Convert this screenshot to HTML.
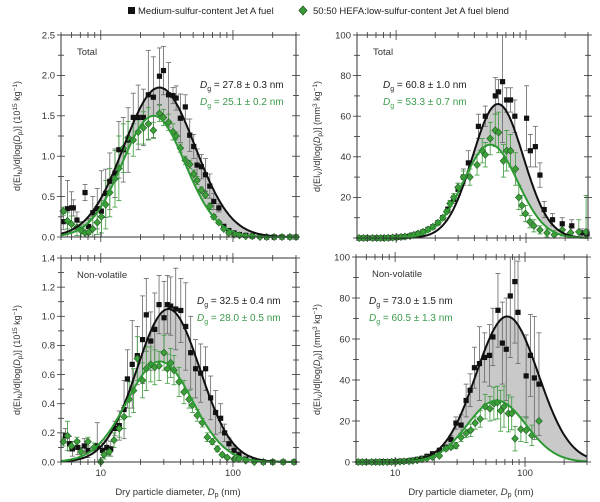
<!DOCTYPE html>
<html><head><meta charset="utf-8"><style>
body{margin:0;background:#fff;}
svg{display:block;font-family:"Liberation Sans",sans-serif;}
</style></head><body>
<svg id="chart" width="600" height="502" viewBox="0 0 600 502" xmlns="http://www.w3.org/2000/svg">
<g>
 <rect x="128" y="7" width="7" height="7" fill="#111"/>
 <text x="138" y="14" font-size="9.5" fill="#222">Medium-sulfur-content Jet A fuel</text>
 <path d="M303,6 L307,10.5 L303,15 L299,10.5Z" fill="#3a9a3a" stroke="#1c5c1c" stroke-width="0.8"/>
 <text x="313" y="14" font-size="9.5" fill="#222">50:50 HEFA:low-sulfur-content Jet A fuel blend</text>
</g>
<text x="178" y="495" font-size="9.5" text-anchor="middle" fill="#333">Dry particle diameter, <tspan font-style="italic">D</tspan><tspan font-size="7" dy="2">p</tspan><tspan dy="-2"> (nm)</tspan></text>
<text x="471" y="495" font-size="9.5" text-anchor="middle" fill="#333">Dry particle diameter, <tspan font-style="italic">D</tspan><tspan font-size="7" dy="2">p</tspan><tspan dy="-2"> (nm)</tspan></text>
</svg>
<script>
// ---------- Data ----------
// Top-left: Total number
const tlBlackD = [5.2,5.6,6.0,6.2,6.6,7.1,7.6,8.1,8.7,9.4,10.1,10.9,11.7,12.8,13.7,14.8,16.1,17.6,19.2,21.0,22.9,25.0,27.8,29.8,32.6,35.2,37.2,40.0,43.6,47.1,50.5,53.5,57.7,61.9,66.8,71.6,78.2,85.3,93.2,102,112,125,140,160,180,205,235,270,300];
const tlBlackV = [0.19,0.35,0.36,0.36,0.21,0.09,0.55,0.13,0.30,0.35,0.32,0.54,0.69,0.79,1.08,1.08,1.20,1.48,1.48,1.48,1.76,1.73,1.99,2.06,1.76,1.75,1.72,1.47,1.61,1.26,1.12,0.89,0.87,0.77,0.63,0.44,0.36,0.13,0.08,0.05,0.03,0.02,0.01,0.01,0.0,0.0,0.0,0.0,0.0];
const tlBlackE = [0.1,0.35,0.2,0.1,0.1,0.1,0.1,0.1,0.2,0.25,0.5,0.3,0.35,0.3,0.35,0.4,0.4,0.3,0.4,0.35,0.55,0.5,0.35,0.3,0.4,0.1,0.15,0.3,0.15,0.2,0.15,0.2,0.15,0.2,0.15,0.1,0.05,0.03,0.02,0.02,0.01,0,0,0,0,0,0,0,0];
const tlGreenD = [5.2,5.6,6.0,6.6,7.1,7.6,8.1,8.7,9.4,10.1,10.9,11.7,12.8,13.7,14.8,16.1,17.6,19.2,21.0,22.9,25.0,27.8,29.8,32.6,35.2,37.2,40.0,43.6,47.1,50.5,53.5,57.7,61.9,66.8,71.6,78.2,85.3,93.2,102,112,125,140,160,180,205,235,270,300];
const tlGreenV = [0.32,0.20,0.16,0.12,0.08,0.05,0.06,0.10,0.18,0.25,0.40,0.55,0.72,0.85,1.10,1.23,1.20,1.30,1.35,1.40,1.32,1.53,1.48,1.42,1.30,1.25,1.10,0.95,0.90,0.78,0.70,0.58,0.52,0.38,0.25,0.18,0.10,0.05,0.03,0.02,0.01,0.01,0.0,0.0,0.0,0.0,0.0,0.0];
const tlGreenE = [0.05,0.1,0.1,0.1,0.1,0.1,0.15,0.15,0.15,0.2,0.3,0.3,0.35,0.4,0.3,0.2,0.2,0.15,0.2,0.2,0.1,0.1,0.1,0.1,0.1,0.05,0.05,0.05,0.05,0.05,0.05,0.04,0.04,0.04,0.03,0.02,0.02,0.01,0.01,0,0,0,0,0,0,0,0,0];
// Top-right: Total volume
const trBlackD = [5.2,5.6,6.0,6.6,7.1,7.6,8.1,8.7,9.4,10.1,10.9,11.7,12.8,13.7,14.8,16.1,17.6,19.2,21.0,22.9,25.0,27.8,30.0,33.0,36.0,43.0,48.6,58.0,61.5,66.0,71.0,76.0,82.0,101,108,118,128,138,160,190,225,270,295];
const trBlackV = [0,0,0,0,0,0,0,0.1,0.2,0.3,0.5,0.7,1.0,1.5,2.2,3.0,4.2,5.5,7.5,10,14,19,24,30,37,55,60,70,72,77,68,68,60,59,43,45,31,14,9,7,6,2.5,2];
const trBlackE = [0,0,0,0,0,0,0,0,0,0,0,0,0,0,0,0,0,0,0.5,1,1.5,2,3,4,6,6,5,9,6,30,6,6,8,16,8,10,6,4,3,3,3,2,2];
const trGreenD = [5.2,5.6,6.0,6.6,7.1,7.6,8.1,8.7,9.4,10.1,10.9,11.7,12.8,13.7,14.8,16.1,17.6,19.2,21.0,22.9,24.5,26.0,27.8,30.0,33.0,37.0,42.0,46.0,48.6,53.0,58.0,61.5,67.0,71.0,76.0,83.0,88.0,93.0,99.0,107,115,128,145,165,190,220,255,290];
const trGreenV = [0,0,0,0,0,0,0,0.1,0.2,0.3,0.5,0.7,1.0,1.5,2.2,3.0,4.2,5.5,7.5,10,13,17,20,25,30,30,36,43,41,49,53,52,38,43,43,34,20,16,12,8,6,4,2.5,1.6,4,2.5,3,3];
const trGreenE = [0,0,0,0,0,0,0,0,0,0,0,0,0,0,0,0,0,0,0.5,1,1,1.5,2,2,3,4,5,6,6,8,8,10,8,10,8,8,6,5,4,3,3,2,2,2,3,3,6,18];
// Bottom-left: Non-volatile number
const blBlackD = [5.4,5.8,6.1,6.7,7.5,8.0,9.4,10.3,11.1,11.9,12.8,13.8,15.0,15.9,17.3,18.9,20.7,22.1,23.9,25.6,27.6,30.1,31.9,33.8,36.9,40.3,43.9,47.9,52.2,57.0,62.1,67.8,74.0,80.7,86.5,93.3,102,111,125,145,170,200,240,290];
const blBlackV = [0.18,0.125,0.09,0.10,0.11,0.08,0.11,0.08,0.10,0.09,0.23,0.25,0.36,0.57,0.67,0.73,0.84,1.01,0.83,0.91,1.08,0.99,1.08,1.07,1.05,1.04,0.93,0.75,0.64,0.61,0.64,0.44,0.34,0.30,0.20,0.125,0.08,0.05,0.02,0.01,0.0,0.0,0.0,0.0];
const blBlackE = [0.05,0.05,0.05,0.05,0.05,0.05,0.16,0.05,0.05,0.05,0.05,0.1,0.2,0.2,0.3,0.2,0.3,0.25,0.2,0.25,0.2,0.25,0.2,0.2,0.28,0.22,0.3,0.25,0.2,0.2,0.15,0.15,0.15,0.1,0.06,0.04,0.03,0.02,0.01,0,0,0,0,0];
const blGreenD = [5.2,5.6,6.0,6.6,7.1,8.0,8.9,10.0,10.6,11.6,12.6,13.8,15.0,16.4,17.7,18.9,20.7,22.1,23.9,25.6,27.6,30.1,31.9,33.8,35.8,39.1,42.6,46.5,49.3,53.7,58.6,64.0,69.8,76.2,83.0,90.6,102,111,125,145,170,200,240,290];
const blGreenV = [0.14,0.18,0.11,0.14,0.07,0.14,0.10,0.0,0.05,0.07,0.15,0.23,0.31,0.43,0.49,0.71,0.56,0.64,0.67,0.65,0.66,0.75,0.64,0.68,0.63,0.55,0.48,0.43,0.39,0.32,0.27,0.17,0.14,0.09,0.05,0.03,0.02,0.02,0.01,0.0,0.0,0.0,0.0,0.0];
const blGreenE = [0.03,0.1,0.03,0.03,0.03,0.03,0.03,0.02,0.03,0.03,0.05,0.06,0.08,0.12,0.15,0.15,0.12,0.15,0.12,0.12,0.1,0.12,0.1,0.1,0.1,0.1,0.08,0.06,0.05,0.04,0.03,0.03,0.02,0.02,0.01,0.01,0.01,0,0,0,0,0,0,0];
// Bottom-right: Non-volatile volume
const brBlackD = [5.2,5.6,6.0,6.6,7.1,7.6,8.1,8.7,9.4,10.1,10.9,11.7,12.8,13.7,14.8,16.1,17.6,19.4,21.9,24.6,26.9,29.4,32.2,35.2,37.8,40.8,44.6,48.8,53.3,56.6,61.9,66.9,71.7,77.0,83.5,88.3,102,110,118,128];
const brBlackV = [0,0,0,0,0,0,0.2,0.1,0.1,0.2,0.3,0.4,0.6,0.9,1.3,1.8,2.8,4,5.7,7,11,19,18,30,35,46,48,51,52,61,74,58,55,81,88,73,42,52,41,38];
const brBlackE = [0,0,0,0,0,0,0,0,0,0,0,0,0,0,0,0,0,1,1,1.5,2,3,5,8,8,10,18,12,15,14,18,20,25,30,30,25,20,20,30,25];
const brGreenD = [5.2,5.6,6.0,6.6,7.1,7.6,8.1,8.7,9.4,10.1,10.9,11.7,12.8,13.7,14.8,16.1,17.6,19.4,21.9,24.6,26.9,29.4,32.2,35.2,38.2,41.3,45.2,49.3,53.7,57.6,61.3,65.0,68.9,74.5,79.0,83.8,93.0,102,113,128];
const brGreenV = [0,0,0,0,0,0,0,0,0.1,0.1,0.2,0.3,0.4,0.6,0.9,1.3,1.8,2.4,3,6.5,7.3,8,12,14,15.5,19,21,27,26,28.5,29,25,27,23.7,23.7,11.4,16,15.5,13,20];
const brGreenE = [0,0,0,0,0,0,0,0,0,0,0,0,0,0,0,0,0,0.5,0.5,1,1,1.5,2,2,3,3,4,6,6,8,8,10,10,9,8,6,6,6,5,0];
// Log-normal fits: [peak, Dg(nm), ln(sigma)] for black, green
const tlFitBlack = [1.85, 27.8, 0.62], tlFitGreen = [1.50, 25.1, 0.55];
const trFitBlack = [66, 60.8, 0.45], trFitGreen = [46, 53.3, 0.48];
const blFitBlack = [1.05, 32.5, 0.55], blFitGreen = [0.69, 28.0, 0.57];
const brFitBlack = [71, 73.0, 0.55], brFitGreen = [30, 60.5, 0.52];
// Y tick labels
const tlYTicks = ["0.0","0.5","1.0","1.5","2.0","2.5"];
const trYTicks = ["","20","40","60","80","100"];
const blYTicks = ["0.0","0.2","0.4","0.6","0.8","1.0","1.2","1.4"];
const brYTicks = ["0","20","40","60","80","100"];

// ---------- Drawing ----------
const svg = document.getElementById('chart');
const NS = 'http://www.w3.org/2000/svg';
function mk(tag, attrs, parent){
  const e = document.createElementNS(NS, tag);
  for (const k in attrs) e.setAttribute(k, attrs[k]);
  (parent||svg).appendChild(e);
  return e;
}
const GREEN = '#2e9a34', GDARK = '#1d5e20', GTEXT = '#3a9a4a';

function panel(p){
  const g = mk('g', {});
  
  
  const xs = d => p.x0 + (Math.log10(d) - Math.log10(5)) / (Math.log10(300) - Math.log10(5)) * (p.x1 - p.x0);
  const ys = v => p.y1 - v / p.ymax * (p.y1 - p.y0);
  const fit = (f, d) => f[0] * Math.exp(-Math.pow(Math.log(d / f[1]), 2) / (2 * f[2] * f[2]));
  const grid = [];
  for (let i = 0; i <= 200; i++) grid.push(5 * Math.pow(60, i / 200));
  let fillD = 'M' + grid.map(d => xs(d).toFixed(1) + ',' + ys(Math.max(fit(p.fb, d), fit(p.fg, d))).toFixed(1)).join('L');
  fillD += 'L' + grid.slice().reverse().map(d => xs(d).toFixed(1) + ',' + ys(fit(p.fg, d)).toFixed(1)).join('L') + 'Z';
  const fill = mk('path', {d: fillD, fill: '#c9c9c9', stroke: 'none'}, g);
  
  
  function errs(D, V, E, col, nm){
    const eg = mk('g', {stroke: col, 'stroke-width': 0.8}, g);
    
    
    D.forEach((d, i) => {
      if (!E[i]) return;
      const x = xs(d), ya = Math.max(ys(V[i] + E[i]), p.y0), yb = Math.min(ys(V[i] - E[i]), p.y1);
      mk('line', {x1: x, x2: x, y1: ya, y2: yb}, eg);
      if (ya > p.y0) mk('line', {x1: x - 2.5, x2: x + 2.5, y1: ya, y2: ya}, eg);
      mk('line', {x1: x - 2.5, x2: x + 2.5, y1: yb, y2: yb}, eg);
    });
  }
  errs(p.bD, p.bV, p.bE, '#666', 'error-bars-medium-sulfur');
  errs(p.gD, p.gV, p.gE, '#3a9a3a', 'error-bars-hefa-blend');
  const bg = mk('g', {}, g);
  
  
  p.bD.forEach((d, i) => {
    const r = mk('rect', {x: xs(d) - 2.6, y: ys(p.bV[i]) - 2.6, width: 5.2, height: 5.2, fill: '#111'}, bg);
    
    
  });
  const gg = mk('g', {}, g);
  
  
  p.gD.forEach((d, i) => {
    const x = xs(d), y = ys(p.gV[i]);
    const r = mk('path', {d: `M${x},${y-3.6}L${x+3.4},${y}L${x},${y+3.6}L${x-3.4},${y}Z`, fill: '#3d9e3a', stroke: GDARK, 'stroke-width': 0.6}, gg);
    
    
  });
  const lb = mk('path', {d: 'M' + grid.map(d => xs(d).toFixed(1) + ',' + ys(fit(p.fb, d)).toFixed(1)).join('L'), fill: 'none', stroke: '#111', 'stroke-width': 2}, g);
  
  
  const lg = mk('path', {d: 'M' + grid.map(d => xs(d).toFixed(1) + ',' + ys(fit(p.fg, d)).toFixed(1)).join('L'), fill: 'none', stroke: GREEN, 'stroke-width': 2}, g);
  
  
  const fr = mk('rect', {x: p.x0, y: p.y0, width: p.x1 - p.x0, height: p.y1 - p.y0, fill: 'none', stroke: '#333', 'stroke-width': 1}, g);
  
  
  const tg = mk('g', {stroke: '#333', 'stroke-width': 0.8}, g);
  
  
  [5,6,7,8,9,10,20,30,40,50,60,70,80,90,100,200,300].forEach(d => {
    const x = xs(d), L = (d === 10 || d === 100) ? 5 : 3;
    mk('line', {x1: x, x2: x, y1: p.y1 - L, y2: p.y1 + L}, tg);
    mk('line', {x1: x, x2: x, y1: p.y0 - L, y2: p.y0 + L}, tg);
  });
  if (p.xlabels) {
    [10, 100].forEach(d => {
      const t = mk('text', {x: xs(d), y: p.y1 + 14, 'font-size': 9.5, 'text-anchor': 'middle', fill: '#333'}, g);
      t.textContent = String(d);
      
      
    });
  }
  const n = p.yt.length - 1;
  for (let i = 0; i <= 2 * n; i++) {
    const v = p.ymax * i / (2 * n), y = ys(v), L = i % 2 ? 3 : 4;
    mk('line', {x1: p.x0 - L, x2: p.x0 + L, y1: y, y2: y}, tg);
    mk('line', {x1: p.x1 - L, x2: p.x1 + L, y1: y, y2: y}, tg);
    if (i % 2 === 0 && p.yt[i / 2]) {
      const t = mk('text', {x: p.x0 - 6, y: y + 3.3, 'font-size': 9.5, 'text-anchor': 'end', fill: '#333'}, g);
      t.textContent = p.yt[i / 2];
      
      
    }
  }
  const tt = mk('text', {x: p.x0 + 16, y: p.y0 + 20, 'font-size': 9.5, fill: '#333'}, g);
  tt.textContent = p.title;
  
  
  const yl = mk('text', {transform: `translate(${p.ylx},${(p.y0 + p.y1) / 2}) rotate(-90)`, 'font-size': 9, 'text-anchor': 'middle', fill: '#333'}, g);
  yl.innerHTML = p.ylabel;
  
  
  p.dg.forEach((s, i) => {
    const t = mk('text', {x: p.dgx, y: p.dgy + i * 17, 'font-size': 10, fill: i ? GTEXT : '#222'}, g);
    t.innerHTML = `<tspan font-style="italic">D</tspan><tspan font-size="7" dy="3">g</tspan><tspan dy="-3"> = ${s}</tspan>`;
    
    
  });
}
const numLabel = 'd(EI<tspan font-size="6.5" dy="2">N</tspan><tspan dy="-2">)/d[log(</tspan><tspan font-style="italic">D</tspan><tspan font-size="6.5" dy="2">p</tspan><tspan dy="-2">)] (10</tspan><tspan font-size="6.5" dy="-3">15</tspan><tspan dy="3"> kg</tspan><tspan font-size="6.5" dy="-3">−1</tspan><tspan dy="3">)</tspan>';
const volLabel = 'd(EI<tspan font-size="6.5" dy="2">V</tspan><tspan dy="-2">)/d[log(</tspan><tspan font-style="italic">D</tspan><tspan font-size="6.5" dy="2">p</tspan><tspan dy="-2">)] (mm</tspan><tspan font-size="6.5" dy="-3">3</tspan><tspan dy="3"> kg</tspan><tspan font-size="6.5" dy="-3">−1</tspan><tspan dy="3">)</tspan>';
panel({name:'panel-total-number', x0:61, x1:296, y0:35, y1:237, ymax:2.5, yt:tlYTicks, bD:tlBlackD, bV:tlBlackV, bE:tlBlackE, gD:tlGreenD, gV:tlGreenV, gE:tlGreenE, fb:tlFitBlack, fg:tlFitGreen, title:'Total', ylabel:numLabel, ylx:20, dg:['27.8 ± 0.3 nm','25.1 ± 0.2 nm'], dgx:200, dgy:88, xlabels:false});
panel({name:'panel-total-volume', x0:357, x1:588, y0:35, y1:238, ymax:100, yt:trYTicks, bD:trBlackD, bV:trBlackV, bE:trBlackE, gD:trGreenD, gV:trGreenV, gE:trGreenE, fb:trFitBlack, fg:trFitGreen, title:'Total', ylabel:volLabel, ylx:320, dg:['60.8 ± 1.0 nm','53.3 ± 0.7 nm'], dgx:383, dgy:88, xlabels:false});
panel({name:'panel-nonvolatile-number', x0:61, x1:296, y0:258, y1:462, ymax:1.4, yt:blYTicks, bD:blBlackD, bV:blBlackV, bE:blBlackE, gD:blGreenD, gV:blGreenV, gE:blGreenE, fb:blFitBlack, fg:blFitGreen, title:'Non-volatile', ylabel:numLabel, ylx:20, dg:['32.5 ± 0.4 nm','28.0 ± 0.5 nm'], dgx:197, dgy:304, xlabels:true});
panel({name:'panel-nonvolatile-volume', x0:356, x1:587, y0:257, y1:462, ymax:100, yt:brYTicks, bD:brBlackD, bV:brBlackV, bE:brBlackE, gD:brGreenD, gV:brGreenV, gE:brGreenE, fb:brFitBlack, fg:brFitGreen, title:'Non-volatile', ylabel:volLabel, ylx:320, dg:['73.0 ± 1.5 nm','60.5 ± 1.3 nm'], dgx:369, dgy:304, xlabels:true});
</script>
</body></html>
